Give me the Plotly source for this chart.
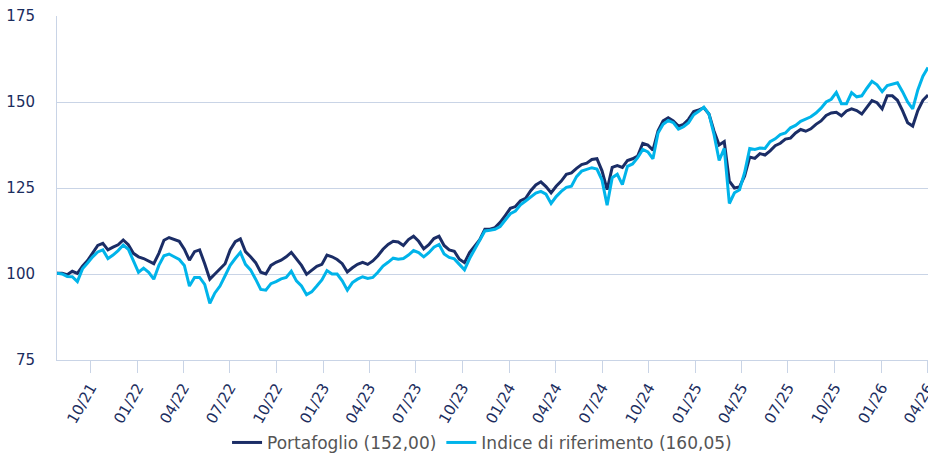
import pandas as pd
import plotly.graph_objects as go

start_date = "2021-07-27"
step = "10D"

portafoglio = [
    100.2, 100.2, 99.8, 100.8, 100.2, 102.3, 103.9, 106.2, 108.3, 108.9,
    107.0, 107.8, 108.5, 109.9, 108.5, 106.0, 105.0, 104.5, 103.7, 103.0,
    106.0, 109.8, 110.6, 110.0, 109.5, 107.2, 104.0, 106.5, 107.0, 103.0,
    98.5, 100.0, 101.5, 103.0, 107.0, 109.4, 110.2, 106.5, 105.0, 103.3,
    100.5, 100.0, 102.5, 103.4, 104.0, 105.0, 106.3, 104.5, 102.5, 99.9,
    101.0, 102.2, 102.8, 105.5, 105.0, 104.2, 103.0, 100.6, 101.8, 102.8,
    103.4, 102.8, 103.8, 105.3, 107.2, 108.6, 109.5, 109.3, 108.3, 110.0,
    111.0, 109.5, 107.3, 108.5, 110.3, 111.0, 108.3, 107.0, 106.6, 104.3,
    103.3, 106.2, 108.1, 110.0, 113.0, 113.0, 113.5, 115.0, 117.0, 119.1,
    119.6, 121.3, 122.0, 124.2, 125.9, 126.8, 125.4, 123.6, 125.5, 127.0,
    129.0, 129.4, 130.7, 131.8, 132.2, 133.3, 133.5, 130.0, 124.5, 131.0,
    131.5, 131.0, 133.0, 133.5, 134.3, 138.0, 137.5, 136.0, 141.6, 144.5,
    145.4, 144.5, 143.0, 143.5, 145.0, 147.2, 147.7, 148.3, 146.5, 141.5,
    137.5, 138.5, 127.0, 125.0, 125.3, 128.5, 134.0, 133.6, 135.0, 134.6,
    135.8, 137.3, 138.0, 139.2, 139.5, 141.0, 142.0, 141.5, 142.2, 143.5,
    144.5, 146.1, 146.8, 147.0, 146.0, 147.4, 148.0, 147.5, 146.5, 148.3,
    150.4, 149.8, 148.0, 151.8, 151.8, 150.5, 147.5, 144.0, 143.0, 147.5,
    150.5, 152.0,
]

indice = [
    100.2, 100.0, 99.3, 99.2, 97.8, 101.5, 103.2, 105.0, 106.4, 107.0,
    104.5, 105.5, 106.8, 108.4, 107.2, 104.0, 100.5, 101.7, 100.5, 98.5,
    102.5, 105.3, 105.8, 105.0, 104.2, 102.5, 96.5, 99.0, 99.0, 97.0,
    91.5, 94.5, 96.5, 99.5, 102.5, 104.5, 106.3, 102.8, 101.2, 98.5,
    95.5, 95.3, 97.2, 97.8, 98.6, 99.0, 100.8, 98.0, 96.5, 94.0,
    94.8, 96.5, 98.3, 101.0, 100.0, 100.0, 98.0, 95.3, 97.5, 98.5,
    99.2, 98.7, 99.0, 100.5, 102.3, 103.4, 104.6, 104.3, 104.5, 105.5,
    106.8, 106.2, 105.0, 106.2, 107.8, 108.6, 105.8, 104.8, 104.4, 102.8,
    101.2, 104.5, 107.2, 109.5, 112.5, 112.7, 113.0, 113.8, 115.7, 117.5,
    118.3, 120.1, 121.2, 122.3, 123.5, 124.0, 123.2, 120.5, 122.5, 124.0,
    125.2, 125.5, 128.3, 129.9, 130.4, 130.9, 130.5, 127.3, 120.0, 128.0,
    129.0, 126.0, 131.3, 132.0, 133.8, 136.2, 135.5, 133.5, 141.0, 143.5,
    144.6, 144.0, 142.1, 142.8, 144.0, 146.3, 147.3, 148.5, 146.5, 140.5,
    133.0, 136.5, 120.5, 123.6, 124.5, 129.5, 136.5, 136.2, 136.6, 136.5,
    138.5, 139.3, 140.5, 141.0, 142.5, 143.2, 144.4, 145.0, 145.7, 146.8,
    148.2, 150.0, 150.8, 152.8, 149.5, 149.5, 152.7, 151.5, 151.8, 154.0,
    156.0, 155.0, 153.0, 154.8, 155.2, 155.6, 153.0, 150.0, 148.0, 153.5,
    157.5, 160.05,
]

series_names = ["Portafoglio (152,00)", "Indice di riferimento (160,05)"]
series_colors = ["#1b2d66", "#00b4ea"]

dates = pd.date_range(start_date, periods=len(portafoglio), freq=step)

grid_color = "#c9d4e6"
text_color = "#1b2d5e"
font_family = "DejaVu Sans, Verdana, sans-serif"

fig = go.Figure()
for name, vals, col in zip(series_names, [portafoglio, indice], series_colors):
    fig.add_trace(go.Scatter(x=dates, y=vals, mode="lines", name=name,
                             line=dict(color=col, width=3)))

fig.update_layout(
    width=928, height=455,
    margin=dict(l=57, r=0, t=16, b=95, autoexpand=False),
    paper_bgcolor="white", plot_bgcolor="white",
    font=dict(family=font_family, color=text_color),
    showlegend=True,
    legend=dict(orientation="h", x=0.488, xanchor="center", y=-0.241, yanchor="middle",
                font=dict(size=17, color="#555555"), bgcolor="rgba(0,0,0,0)"),
    xaxis=dict(
        range=["2021-07-27", "2026-04-02"], automargin=False,
        tick0="2021-10-01", dtick="M3", tickformat="%m/%y",
        tickangle=-60, ticks="outside", ticklen=12, tickcolor=grid_color, tickwidth=1,
        showgrid=False, showline=True, linecolor=grid_color, linewidth=1,
        zeroline=False, tickfont=dict(size=15, color=text_color),
        ticklabeloverflow="allow",
    ),
    yaxis=dict(
        range=[75, 175], dtick=25, tick0=75, automargin=False,
        showgrid=True, gridcolor=grid_color, gridwidth=1,
        showline=True, mirror=False, linecolor=grid_color, linewidth=1,
        zeroline=False, ticks="", ticklabelstandoff=18,
        tickfont=dict(size=15, color=text_color),
        ticklabeloverflow="allow",
    ),
)

# Remove the page's default body margin so the 928x455 figure fills the window exactly.
page_css = ("document.body.style.margin='0';"
            "document.body.style.overflow='hidden';"
            "document.documentElement.style.overflow='hidden';")

fig.write_html("out.html", post_script=page_css, config={"displayModeBar": False})
